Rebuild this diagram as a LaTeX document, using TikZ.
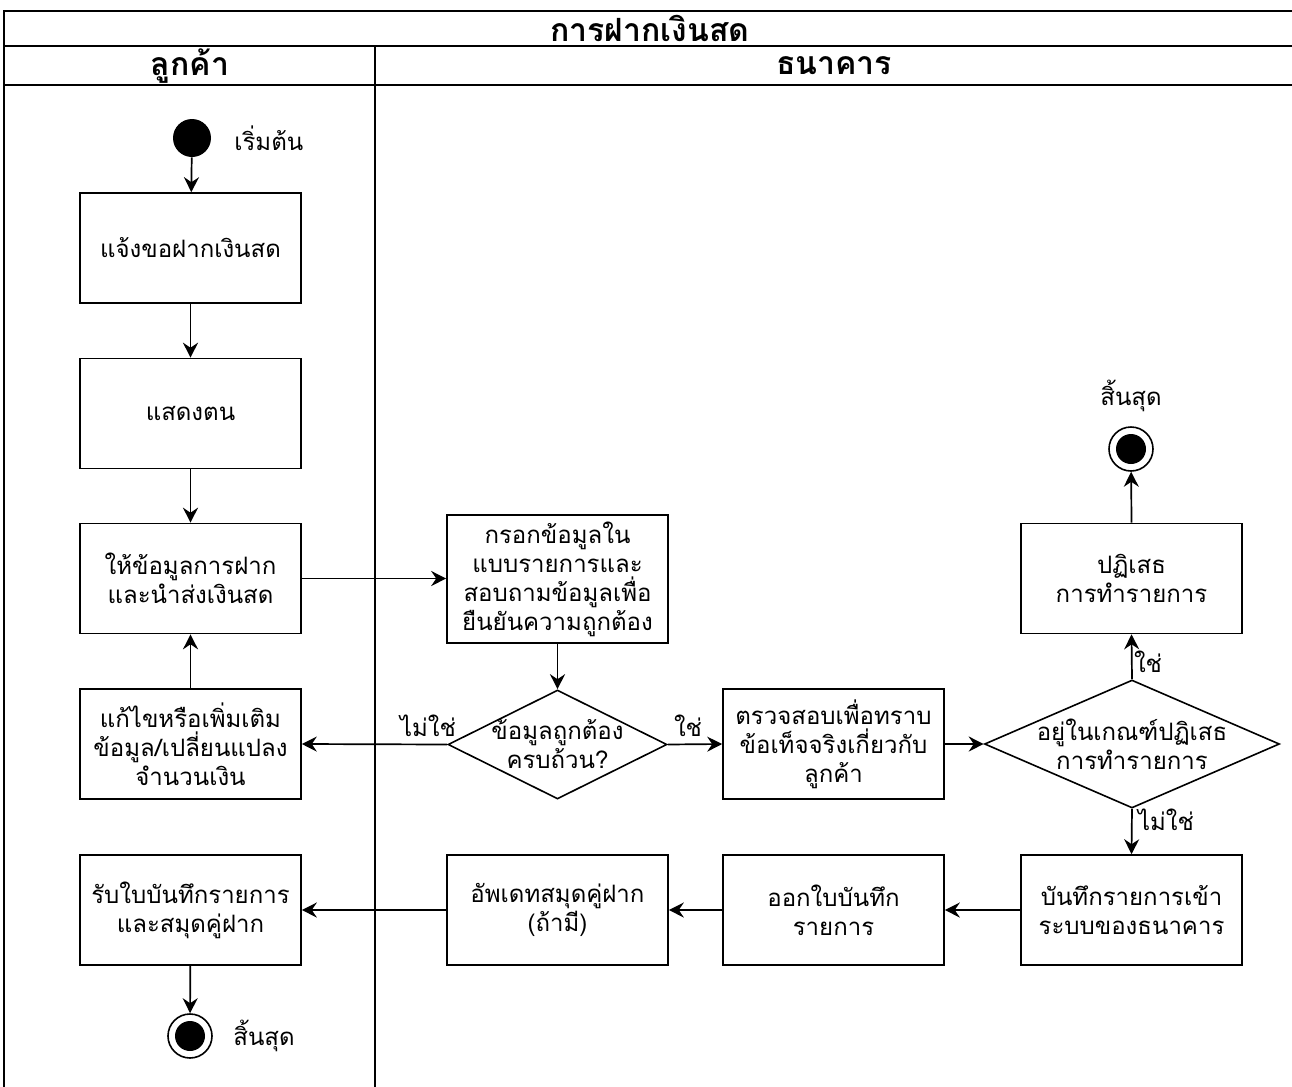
\documentclass[tikz,border=0pt]{standalone}
\usepackage{fontspec}
\setmainfont{Loma}[Script=Thai]
\usetikzlibrary{shapes.geometric,arrows.meta}
\newcommand{\bodyfont}{\fontsize{12pt}{14.5pt}\selectfont}
\newcommand{\headfont}{\fontsize{16pt}{18pt}\selectfont\bfseries}
\begin{document}
\begin{tikzpicture}[x=0.5pt,y=-0.5pt,
  every node/.style={font=\bodyfont},
  box/.style={draw,line width=0.8pt,minimum width=110.5pt,minimum height=55pt,
    inner sep=2pt,align=center},
  decision/.style={draw,diamond,line width=0.8pt,inner sep=0pt},
  dtext/.style={align=center,inner sep=0pt},
  flow/.style={line width=0.85pt,-{Stealth[length=7.5pt,width=7.5pt,inset=2.5pt]}},
  startdot/.style={circle,fill=black,inner sep=0pt,minimum size=19pt},
  endring/.style={circle,draw,line width=0.8pt,fill=white,inner sep=0pt,minimum size=22pt},
  enddot/.style={circle,fill=black,inner sep=0pt,minimum size=15pt},
  lbl/.style={inner sep=0pt},
]
\useasboundingbox (0,0) rectangle (1292,1087);

% swimlane frame
\draw[line width=1.4pt] (4,1100) -- (4,11) -- (1300,11);
\draw[line width=1.1pt] (4,46) -- (1300,46);
\draw[line width=1.1pt] (4,85) -- (1300,85);
\draw[line width=0.8pt] (375,46) -- (375,1100);

\node[font=\headfont] (title) at (650,28) {การฝากเงินสด};
\node[font=\headfont] (laneA) at (190,66) {ลูกค้า};
\node[font=\headfont] (laneB) at (834,66) {ธนาคาร};

% customer lane
\node[startdot] (start) at (192,138) {};
\node[lbl,anchor=west] (startlbl) at (234,138) {เริ่มต้น};
\node[box] (b1) at (190.5,248) {แจ้งขอฝากเงินสด};
\node[box] (b2) at (190.5,413.5) {แสดงตน};
\node[box] (b3) at (190.5,578.5) {ให้ข้อมูลการฝาก\\และนำส่งเงินสด};
\node[box] (b4) at (190.5,744) {แก้ไขหรือเพิ่มเติม\\ข้อมูล/เปลี่ยนแปลง\\จำนวนเงิน};
\node[box] (b5) at (190.5,910) {รับใบบันทึกรายการ\\และสมุดคู่ฝาก};
\node[endring] (end1) at (190,1036) {};
\node[enddot] (end1dot) at (end1) {};
\node[lbl,anchor=west] (end1lbl) at (233,1036) {สิ้นสุด};

% bank lane
\node[box,minimum height=64pt] (fill) at (557.5,579) {กรอกข้อมูลใน\\แบบรายการและ\\สอบถามข้อมูลเพื่อ\\ยืนยันความถูกต้อง};
\node[decision,minimum width=109.5pt,minimum height=54.5pt] (d1) at (557.5,744.5) {};
\node[dtext] (d1txt) at (557.5,744.5) {ข้อมูลถูกต้อง\\ครบถ้วน?};
\node[box] (chk) at (833.5,744) {ตรวจสอบเพื่อทราบ\\ข้อเท็จจริงเกี่ยวกับ\\ลูกค้า};
\node[decision,minimum width=147.5pt,minimum height=64pt] (d2) at (1132,744) {};
\node[dtext] (d2txt) at (1132,744) {อยู่ในเกณฑ์ปฏิเสธ\\การทำรายการ};
\node[box] (rej) at (1131.5,578.5) {ปฏิเสธ\\การทำรายการ};
\node[endring] (end2) at (1131,449) {};
\node[enddot] (end2dot) at (end2) {};
\node[lbl] (end2lbl) at (1131,396) {สิ้นสุด};
\node[box] (rec) at (1131.5,910) {บันทึกรายการเข้า\\ระบบของธนาคาร};
\node[box] (iss) at (833.5,910) {ออกใบบันทึก\\รายการ};
\node[box] (upd) at (557.5,910) {อัพเดทสมุดคู่ฝาก\\(ถ้ามี)};

% branch labels
\node[lbl] (no1) at (428,726) {ไม่ใช่};
\node[lbl] (yes1) at (688,726) {ใช่};
\node[lbl] (yes2) at (1148,662) {ใช่};
\node[lbl] (no2) at (1166,820) {ไม่ใช่};

% connectors
\draw[flow] (start) -- (b1);
\draw[flow] (b1) -- (b2);
\draw[flow] (b2) -- (b3);
\draw[flow] (b4) -- (b3);
\draw[flow] (b3.east) -- (fill.west |- b3.east);
\draw[flow] (fill) -- (d1);
\draw[flow] (d1.west) -- (b4.east);
\draw[flow] (d1.east) -- (chk.west);
\draw[flow] (chk.east) -- (d2.west);
\draw[flow] (d2.north) -- (rej.south);
\draw[flow] (rej.north) -- (end2);
\draw[flow] (d2.south) -- (rec.north);
\draw[flow] (rec) -- (iss);
\draw[flow] (iss) -- (upd);
\draw[flow] (upd) -- (b5);
\draw[flow] (b5) -- (end1);
\end{tikzpicture}
\end{document}
